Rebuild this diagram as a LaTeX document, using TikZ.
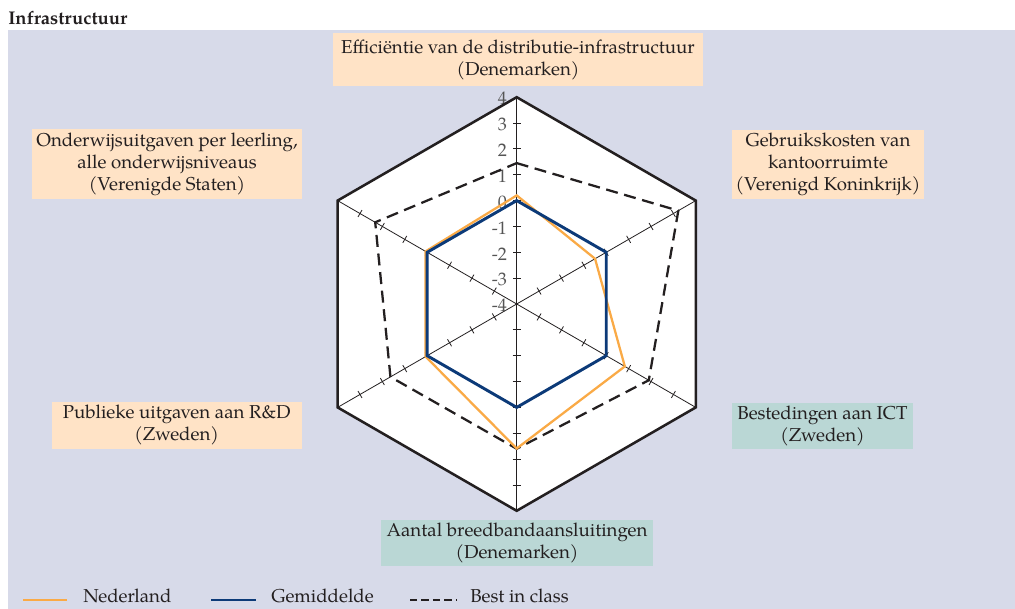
\documentclass[tikz,border=0pt]{standalone}
\usepackage{fontspec}
\setmainfont{TeX Gyre Pagella}
\usetikzlibrary{calc}
\definecolor{panel}{RGB}{215,218,233}
\definecolor{peach}{RGB}{255,227,198}
\definecolor{seafoam}{RGB}{186,215,213}
\definecolor{nlorange}{RGB}{250,170,70}
\definecolor{avgblue}{RGB}{12,58,120}
\definecolor{ink}{RGB}{35,31,32}
\definecolor{scalegray}{RGB}{85,85,85}

\begin{document}
\begin{tikzpicture}[x=0.75pt,y=-0.75pt,
  txt/.style={font=\fontsize{14}{16.5}\selectfont, text=ink},
  axislabel/.style={txt, align=center, inner sep=0pt},
  warm/.style={axislabel, fill=peach},
  cool/.style={axislabel, fill=seafoam},
  spoke/.style={draw=ink, line width=0.6pt},
  tickmark/.style={draw=ink, line width=0.6pt},
  frame/.style={draw=ink, line width=1.9pt, line join=miter},
  best/.style={draw=ink, line width=1.7pt, dash pattern=on 9pt off 5pt},
  nl/.style={draw=nlorange, line width=1.7pt},
  avg/.style={draw=avgblue, line width=2.2pt},
  scalelabel/.style={font=\fontsize{13.6}{16}\selectfont, text=scalegray, anchor=east, inner sep=0pt},
]
\useasboundingbox (0,0) rectangle (1015,609);
\fill[white] (0,0) rectangle (1015,609);
\fill[panel] (8,30) rectangle (1015,609);
\node[font=\bfseries\fontsize{13.8}{16}\selectfont, text=ink, anchor=base west, inner sep=0pt] (title) at (8,25) {Infrastructuur};

% radar chart, one unit = 25.85 px, scale -4 (centre) .. 4 (rim)
\begin{scope}[shift={(516.7,304)}]
  \coordinate (c) at (0,0);
  \foreach \i/\a in {1/-90,2/-30,3/30,4/90,5/150,6/210}{
    \coordinate (v\i) at ({\a}:206.8);
  }
  \fill[white] (v1)--(v2)--(v3)--(v4)--(v5)--(v6)--cycle;
  \foreach \i/\a in {1/-90,2/-30,3/30,4/90,5/150,6/210}{
    \draw[spoke] (c) -- (v\i);
    \foreach \k in {1,...,7}{
      \draw[tickmark] ($({\a}:{\k*25.85})+({\a+90}:4)$) -- ($({\a}:{\k*25.85})+({\a-90}:4)$);
    }
  }
  \foreach \k in {0,...,8}{
    \pgfmathtruncatemacro\val{\k-4}
    \node[scalelabel] (s\k) at (-9.5,{-\k*25.85+1.5}) {\val};
  }
  \draw[frame] (v1)--(v2)--(v3)--(v4)--(v5)--(v6)--cycle;

  % best in class
  \foreach \i/\a/\v in {1/-90/1.45,2/-30/3.22,3/30/1.9,4/90/1.6,5/150/1.64,6/210/2.32}{
    \coordinate (d\i) at ({\a}:{(\v+4)*25.85});
  }
  % Nederland
  \foreach \i/\a/\v in {1/-90/0.2,2/-30/-0.5,3/30/0.83,4/90/1.59,5/150/0.07,6/210/0.07}{
    \coordinate (n\i) at ({\a}:{(\v+4)*25.85});
  }
  % average
  \foreach \i/\a in {1/-90,2/-30,3/30,4/90,5/150,6/210}{
    \coordinate (g\i) at ({\a}:{4*25.85});
  }
  \draw[best] (d1)--(d2)--(d3)--(d4)--(d5)--(d6)--cycle;
  \draw[nl, line join=miter] (n1)--(n2)--(n3)--(n4)--(n5)--(n6)--cycle;
  \draw[avg, line join=miter] (g1)--(g2)--(g3)--(g4)--(g5)--(g6)--cycle;
\end{scope}

% axis captions
\node[warm, minimum width=370*0.75pt, minimum height=53*0.75pt] (eff) at (518,59.5)
  {Effici\"entie van de distributie-infrastructuur\\(Denemarken)};
\node[warm, minimum width=192*0.75pt, minimum height=69*0.75pt] (kantoor) at (828,164.5)
  {Gebruikskosten van\\kantoorruimte\\(Verenigd Koninkrijk)};
\node[cool, minimum width=181*0.75pt, minimum height=46*0.75pt] (ict) at (822.5,426)
  {Bestedingen aan ICT\\(Zweden)};
\node[cool, minimum width=272*0.75pt, minimum height=46*0.75pt] (breed) at (517,543)
  {Aantal breedbandaansluitingen\\(Denemarken)};
\node[warm, minimum width=250*0.75pt, minimum height=47*0.75pt] (rd) at (176.7,425.5)
  {Publieke uitgaven aan R\&D\\(Zweden)};
\node[warm, minimum width=270*0.75pt, minimum height=70*0.75pt] (onderwijs) at (167,164)
  {Onderwijsuitgaven per leerling,\\alle onderwijsniveaus\\(Verenigde Staten)};

% legend
\coordinate (la) at (23,600);  \coordinate (lb) at (67,600);
\coordinate (ma) at (211,600); \coordinate (mb) at (256,600);
\coordinate (ka) at (410,600); \coordinate (kb) at (456,600);
\draw[nl] (la) -- (lb);
\draw[avg] (ma) -- (mb);
\draw[draw=ink, line width=1.7pt, dash pattern=on 5.6pt off 3pt] (ka) -- (kb);
\node[txt, anchor=base west, inner sep=0pt] (lnl) at (83,602.5) {Nederland};
\node[txt, anchor=base west, inner sep=0pt] (lavg) at (271,602.5) {Gemiddelde};
\node[txt, anchor=base west, inner sep=0pt] (lbest) at (470,602.5) {Best in class};
\end{tikzpicture}
\end{document}
